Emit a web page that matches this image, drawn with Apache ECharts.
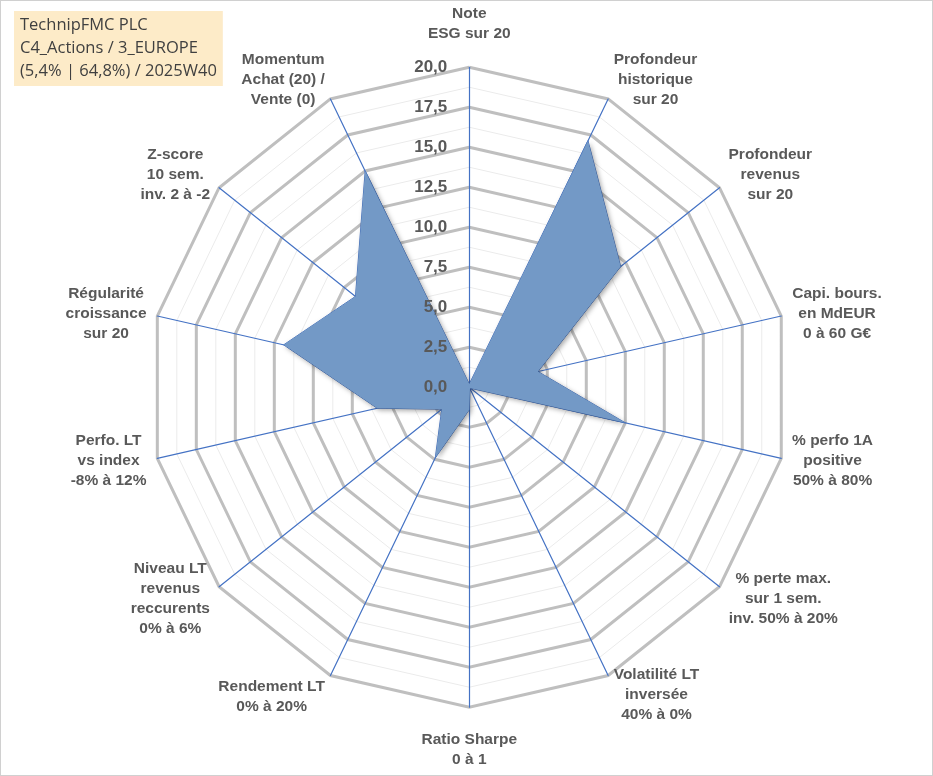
<!DOCTYPE html>
<html>
<head>
<meta charset="utf-8">
<script src="https://cdn.jsdelivr.net/npm/echarts@6/dist/echarts.min.js"></script>
<style>
html,body{margin:0;padding:0;background:#fff;}
#c{width:931px;height:774px;border:1px solid #d0d0d0;}
</style>
</head>
<body>
<div id="c"></div>
<script>
// Axes in clockwise order starting from the top (as in the reference)
const categories = [
  "Note\nESG sur 20",
  "Profondeur\nhistorique\nsur 20",
  "Profondeur\nrevenus\nsur 20",
  "Capi. bours.\nen MdEUR\n0 à 60 G€",
  "% perfo 1A\npositive\n50% à 80%",
  "% perte max.\nsur 1 sem.\ninv. 50% à 20%",
  "Volatilité LT\ninversée\n40% à 0%",
  "Ratio Sharpe\n0 à 1",
  "Rendement LT\n0% à 20%",
  "Niveau LT\nrevenus\nreccurents\n0% à 6%",
  "Perfo. LT\nvs index\n-8% à 12%",
  "Régularité\ncroissance\nsur 20",
  "Z-score\n10 sem.\ninv. 2 à -2",
  "Momentum\nAchat (20) /\nVente (0)"
];
const values = [0.2, 17.1, 12.1, 4.4, 10.0, 0.1, 0.1, 1.4, 4.9, 2.2, 5.9, 11.9, 9.1, 15.0];
const titleLines = ["TechnipFMC PLC", "C4_Actions / 3_EUROPE", "(5,4% | 64,8%) / 2025W40"];
const axisMax = 20;
const tickStep = 2.5;

// ---- layout / style (not data) ----
const center = ['50.3%', '49.9%'];
const radius = 320;
const nameFont = { size: 15.5, family: 'Liberation Sans, Arial, sans-serif', lineHeight: 20 };
// vertical nudge of each axis name (px, positive = up), clockwise order
const nameShift = [14, 10, 7, 0, 0, -6, -10, -12, -12, -6, 0, 0, 7, 10];

// ECharts radar places indicators counter-clockwise: reorder
const order = [0].concat(categories.map((_, i) => i).slice(1).reverse());
const indicators = order.map(i => ({ name: categories[i], max: axisMax, min: 0 }));
const blankIndicators = order.map(i => ({ name: '', max: axisMax, min: 0 }));
const seriesData = order.map(i => values[i]);

// rich styles so each name block has centred lines (+ spacer line for vertical nudge)
const ctx = document.createElement('canvas').getContext('2d');
ctx.font = 'bold ' + nameFont.size + 'px ' + nameFont.family;
const rich = {};
categories.forEach((name, i) => {
  const lines = name.split('\n');
  const w = Math.ceil(Math.max(...lines.map(l => ctx.measureText(l).width))) + 2;
  const s = Math.abs(nameShift[i]);
  const k = (i === 0 || i === 7) ? 1 : 2; // top/bottom names are edge-aligned, others middle-aligned
  rich['t' + i] = { width: w, align: 'center', fontSize: nameFont.size, fontWeight: 'bold',
                    fontFamily: nameFont.family, color: '#595959', lineHeight: nameFont.lineHeight };
  rich['s' + i] = { width: w, fontSize: 1, lineHeight: Math.max(1, s * k) };
});
function nameFormatter(name) {
  const i = categories.indexOf(name);
  let out = name.split('\n').map(l => '{t' + i + '|' + l + '}');
  const s = nameShift[i];
  if (s > 0) out.push('{s' + i + '| }');
  if (s < 0) out.unshift('{s' + i + '| }');
  return out.join('\n');
}

const chart = echarts.init(document.getElementById('c'));
chart.setOption({
  animation: false,
  title: {
    text: titleLines.join('\n'),
    left: 13, top: 10,
    backgroundColor: '#FDEBC8',
    padding: [3, 6, 3, 6],
    textStyle: { fontFamily: 'Open Sans, Liberation Sans, sans-serif', fontSize: 16.5, fontWeight: 'normal', color: '#404040', lineHeight: 23 }
  },
  radar: [{
    // minor grid
    center: center, radius: radius, startAngle: 90, shape: 'polygon',
    splitNumber: 16,
    indicator: blankIndicators,
    axisName: { show: false },
    axisLine: { show: false },
    splitLine: { lineStyle: { color: '#EBEBEB', width: 1 } },
    splitArea: { show: false },
    z: 1
  }, {
    center: center, radius: radius, startAngle: 90, shape: 'polygon',
    splitNumber: 8,
    indicator: indicators,
    axisName: {
      formatter: nameFormatter,
      rich: rich,
      color: '#595959',
      fontFamily: nameFont.family,
      fontWeight: 'bold',
      fontSize: nameFont.size,
      lineHeight: nameFont.lineHeight
    },
    nameGap: 10,
    axisLine: { lineStyle: { color: '#4472C4', width: 1.2 } },
    splitLine: { lineStyle: { color: '#BFBFBF', width: 3 } },
    splitArea: { show: false },
    z: 2
  }],
  polar: { center: center, radius: radius },
  angleAxis: { type: 'value', startAngle: 90, show: false, min: 0, max: 360 },
  radiusAxis: {
    type: 'value', min: 0, max: axisMax, interval: tickStep,
    axisLine: { show: false }, axisTick: { show: false }, splitLine: { show: false },
    axisLabel: {
      margin: 22,
      color: '#595959', fontWeight: 'bold', fontSize: 17,
      fontFamily: 'Liberation Sans, Arial, sans-serif',
      formatter: v => v.toFixed(1).replace('.', ',')
    },
    z: 10
  },
  series: [{
    type: 'radar',
    radarIndex: 1,
    symbol: 'none',
    lineStyle: { color: '#4472C4', width: 1 },
    areaStyle: { color: '#7399C6', opacity: 1, shadowColor: 'rgba(0,0,0,0.35)', shadowBlur: 5, shadowOffsetX: 2, shadowOffsetY: 2 },
    data: [{ value: seriesData }],
    z: 3
  }]
});
</script>
</body>
</html>
